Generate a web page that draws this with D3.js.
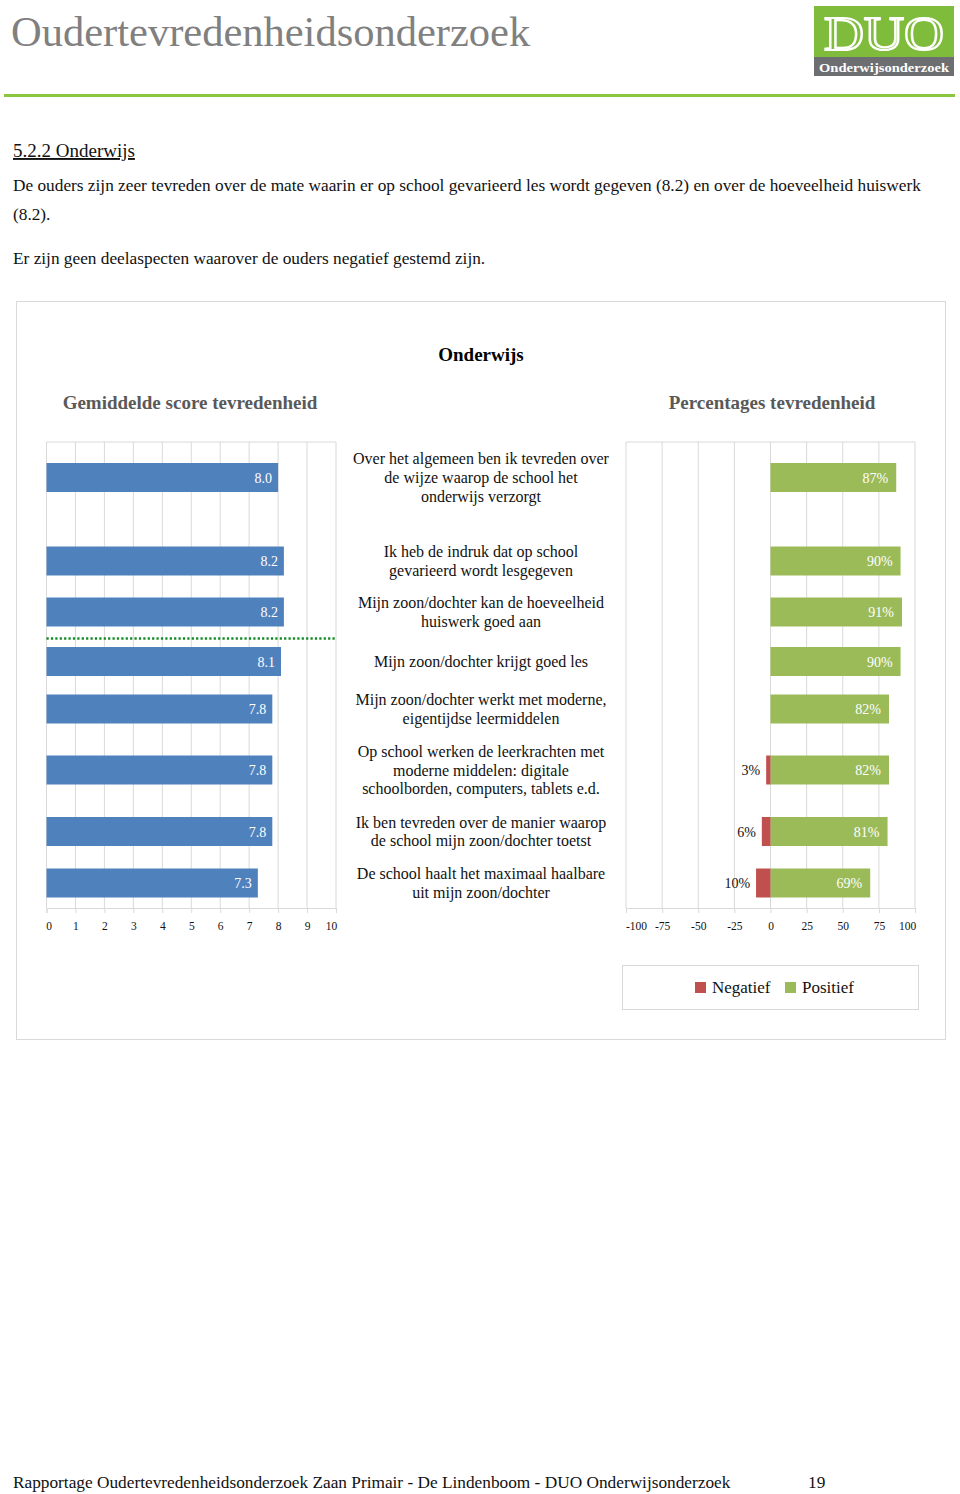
<!DOCTYPE html>
<html>
<head>
<meta charset="utf-8">
<script src="https://cdn.jsdelivr.net/npm/d3@7"></script>
<style>
  body { margin: 0; background: #fff; }
  svg { display: block; font-family: "Liberation Serif", "Times New Roman", serif; }
</style>
</head>
<body>
<div id="container"></div>
<script>
// Chart data
const items = [
    "Over het algemeen ben ik tevreden over|de wijze waarop de school het|onderwijs verzorgt",
    "Ik heb de indruk dat op school|gevarieerd wordt lesgegeven",
    "Mijn zoon/dochter kan de hoeveelheid|huiswerk goed aan",
    "Mijn zoon/dochter krijgt goed les",
    "Mijn zoon/dochter werkt met moderne,|eigentijdse leermiddelen",
    "Op school werken de leerkrachten met|moderne middelen: digitale|schoolborden, computers, tablets e.d.",
    "Ik ben tevreden over de manier waarop|de school mijn zoon/dochter toetst",
    "De school haalt het maximaal haalbare|uit mijn zoon/dochter"
];
const scores = [8.0, 8.2, 8.2, 8.1, 7.8, 7.8, 7.8, 7.3];
const positive = [87, 90, 91, 90, 82, 82, 81, 69];
const negative = [0, 0, 0, 0, 0, 3, 6, 10];
const scoreTicks = [0, 1, 2, 3, 4, 5, 6, 7, 8, 9, 10];
const pctTicks = [-100, -75, -50, -25, 0, 25, 50, 75, 100];
const legendItems = ["Negatief", "Positief"];

// layout (row centres follow the label heights in the original)
const rowCenters = [477.5, 561, 612, 661.5, 709, 770, 831.5, 883];
const barH = 29;
const plotTop = 442, plotBottom = 908;
const blue = "#4f81bd", green = "#9bbb59", red = "#c0504d", grid = "#d9d9d9";

const svg = d3.select("#container")
    .append("svg")
    .attr("width", 960)
    .attr("height", 1494);

// ---- page header ----
svg.append("text")
    .attr("x", 11).attr("y", 46)
    .attr("font-size", 42.5)
    .attr("fill", "#808080")
    .text("Oudertevredenheidsonderzoek");

svg.append("rect")
    .attr("x", 4).attr("y", 94).attr("width", 951).attr("height", 3)
    .attr("fill", "#8cc63f");

// logo
const logo = svg.append("g");
logo.append("rect").attr("x", 814).attr("y", 6).attr("width", 140).attr("height", 52).attr("fill", "#80bc3c");
logo.append("rect").attr("x", 814).attr("y", 57).attr("width", 140).attr("height", 19).attr("fill", "#6d6e71");
logo.append("text")
    .attr("x", 884).attr("y", 50)
    .attr("text-anchor", "middle")
    .attr("font-size", 49)
    .attr("fill", "none")
    .attr("stroke", "#fff")
    .attr("stroke-width", 2.2)
    .attr("textLength", 120)
    .attr("lengthAdjust", "spacingAndGlyphs")
    .text("DUO");
logo.append("text")
    .attr("x", 884).attr("y", 72)
    .attr("text-anchor", "middle")
    .attr("font-size", 13)
    .attr("font-weight", "bold")
    .attr("fill", "#fff")
    .attr("textLength", 130)
    .attr("lengthAdjust", "spacingAndGlyphs")
    .text("Onderwijsonderzoek");

// ---- section text ----
svg.append("text")
    .attr("x", 13).attr("y", 157)
    .attr("font-size", 19)
    .attr("text-decoration", "underline")
    .attr("fill", "#111")
    .text("5.2.2 Onderwijs");

const para = [
    { y: 191, t: "De ouders zijn zeer tevreden over de mate waarin er op school gevarieerd les wordt gegeven (8.2) en over de hoeveelheid huiswerk" },
    { y: 220, t: "(8.2)." },
    { y: 264, t: "Er zijn geen deelaspecten waarover de ouders negatief gestemd zijn." }
];
svg.selectAll("text.para")
    .data(para)
    .join("text")
    .attr("class", "para")
    .attr("x", 13).attr("y", d => d.y)
    .attr("font-size", 17.3)
    .attr("fill", "#111")
    .text(d => d.t);

// ---- chart frame ----
svg.append("rect")
    .attr("x", 16.5).attr("y", 301.5).attr("width", 929).attr("height", 738)
    .attr("fill", "#fff")
    .attr("stroke", "#d9d9d9");

svg.append("text")
    .attr("x", 481).attr("y", 361)
    .attr("text-anchor", "middle")
    .attr("font-size", 19)
    .attr("font-weight", "bold")
    .text("Onderwijs");

svg.append("text")
    .attr("x", 190).attr("y", 409)
    .attr("text-anchor", "middle")
    .attr("font-size", 19)
    .attr("font-weight", "bold")
    .attr("fill", "#595959")
    .text("Gemiddelde score tevredenheid");

svg.append("text")
    .attr("x", 772).attr("y", 409)
    .attr("text-anchor", "middle")
    .attr("font-size", 19)
    .attr("font-weight", "bold")
    .attr("fill", "#595959")
    .text("Percentages tevredenheid");

// scales
const y = d3.scaleOrdinal(items, rowCenters);
const xs = d3.scaleLinear().domain([0, 10]).range([46.5, 336]);
const xp = d3.scaleLinear().domain([-100, 100]).range([626, 915]);

// ---- left chart: mean scores ----
const left = svg.append("g");

left.append("line")
    .attr("x1", xs(0)).attr("x2", xs(10))
    .attr("y1", plotTop).attr("y2", plotTop)
    .attr("stroke", grid);

left.selectAll("line.grid")
    .data(scoreTicks)
    .join("line")
    .attr("class", "grid")
    .attr("x1", d => xs(d)).attr("x2", d => xs(d))
    .attr("y1", plotTop).attr("y2", plotBottom)
    .attr("stroke", grid);

const axL = left.append("g")
    .attr("transform", `translate(0,${plotBottom})`)
    .call(d3.axisBottom(xs).tickValues(scoreTicks).tickFormat(d => String(d)).tickSize(5).tickPadding(9));
axL.select(".domain").attr("stroke", grid);
axL.selectAll(".tick line").attr("stroke", grid);
axL.selectAll(".tick text")
    .attr("font-family", "Liberation Serif, serif")
    .attr("font-size", 11.5)
    .attr("fill", "#111")
    .attr("dx", d => d === 0 ? 2 : d === 10 ? -5 : 0);

left.selectAll("rect.score")
    .data(items)
    .join("rect")
    .attr("class", "score")
    .attr("x", xs(0))
    .attr("y", d => y(d) - barH / 2)
    .attr("width", (d, i) => xs(scores[i]) - xs(0))
    .attr("height", barH)
    .attr("fill", blue);

left.selectAll("text.score")
    .data(items)
    .join("text")
    .attr("class", "score")
    .attr("x", (d, i) => xs(scores[i]) - 6)
    .attr("y", d => y(d) + 5)
    .attr("text-anchor", "end")
    .attr("font-size", 14)
    .attr("fill", "#fff")
    .text((d, i) => scores[i].toFixed(1));

// dotted separator
left.append("line")
    .attr("x1", xs(0)).attr("x2", xs(10))
    .attr("y1", 638.5).attr("y2", 638.5)
    .attr("stroke", "#138a24")
    .attr("stroke-width", 2.5)
    .attr("stroke-dasharray", "2.2,2.2");

// ---- middle labels ----
const labels = svg.append("g");
items.forEach(d => {
    const lines = d.split("|");
    const t = labels.append("text")
        .attr("text-anchor", "middle")
        .attr("font-size", 16)
        .attr("fill", "#111");
    lines.forEach((ln, j) => {
        t.append("tspan")
            .attr("x", 481)
            .attr("y", y(d) + 5.5 + (j - (lines.length - 1) / 2) * 18.8)
            .text(ln);
    });
});

// ---- right chart: percentages ----
const right = svg.append("g");

right.append("line")
    .attr("x1", xp(-100)).attr("x2", xp(100))
    .attr("y1", plotTop).attr("y2", plotTop)
    .attr("stroke", grid);

right.selectAll("line.grid")
    .data(pctTicks)
    .join("line")
    .attr("class", "grid")
    .attr("x1", d => xp(d)).attr("x2", d => xp(d))
    .attr("y1", plotTop).attr("y2", plotBottom)
    .attr("stroke", grid);

const axR = right.append("g")
    .attr("transform", `translate(0,${plotBottom})`)
    .call(d3.axisBottom(xp).tickValues(pctTicks).tickFormat(d => String(d)).tickSize(5).tickPadding(9));
axR.select(".domain").attr("stroke", grid);
axR.selectAll(".tick line").attr("stroke", grid);
axR.selectAll(".tick text")
    .attr("font-family", "Liberation Serif, serif")
    .attr("font-size", 11.5)
    .attr("fill", "#111")
    .attr("dx", d => d === -100 ? 10 : d === 100 ? -8 : 0);

right.selectAll("rect.pos")
    .data(items)
    .join("rect")
    .attr("class", "pos")
    .attr("x", xp(0))
    .attr("y", d => y(d) - barH / 2)
    .attr("width", (d, i) => xp(positive[i]) - xp(0))
    .attr("height", barH)
    .attr("fill", green);

right.selectAll("rect.neg")
    .data(items)
    .join("rect")
    .attr("class", "neg")
    .attr("x", (d, i) => xp(-negative[i]))
    .attr("y", d => y(d) - barH / 2)
    .attr("width", (d, i) => xp(0) - xp(-negative[i]))
    .attr("height", barH)
    .attr("fill", red);

right.selectAll("text.pos")
    .data(items)
    .join("text")
    .attr("class", "pos")
    .attr("x", (d, i) => xp(positive[i]) - 8)
    .attr("y", d => y(d) + 5)
    .attr("text-anchor", "end")
    .attr("font-size", 14)
    .attr("fill", "#fff")
    .text((d, i) => positive[i] + "%");

right.selectAll("text.neg")
    .data(items.filter((d, i) => negative[i] > 0))
    .join("text")
    .attr("class", "neg")
    .attr("x", d => xp(-negative[items.indexOf(d)]) - 6)
    .attr("y", d => y(d) + 5)
    .attr("text-anchor", "end")
    .attr("font-size", 14)
    .attr("fill", "#111")
    .text(d => negative[items.indexOf(d)] + "%");

// ---- legend ----
const legend = svg.append("g");
legend.append("rect")
    .attr("x", 622.5).attr("y", 965.5).attr("width", 296).attr("height", 44)
    .attr("fill", "#fff")
    .attr("stroke", "#d9d9d9");

const legendX = d3.scaleOrdinal(legendItems, [695, 785]);
const legendColor = d3.scaleOrdinal(legendItems, [red, green]);
const lg = legend.selectAll("g.item")
    .data(legendItems)
    .join("g")
    .attr("class", "item")
    .attr("transform", d => `translate(${legendX(d)},982)`);
lg.append("rect")
    .attr("width", 11).attr("height", 11)
    .attr("fill", d => legendColor(d));
lg.append("text")
    .attr("x", 17).attr("y", 11)
    .attr("font-size", 17)
    .attr("fill", "#111")
    .text(d => d);

// ---- footer ----
svg.append("text")
    .attr("x", 13).attr("y", 1488)
    .attr("font-size", 17.3)
    .attr("fill", "#111")
    .text("Rapportage Oudertevredenheidsonderzoek Zaan Primair - De Lindenboom - DUO Onderwijsonderzoek");
svg.append("text")
    .attr("x", 808).attr("y", 1488)
    .attr("font-size", 17.3)
    .attr("fill", "#111")
    .text("19");
</script>
</body>
</html>
